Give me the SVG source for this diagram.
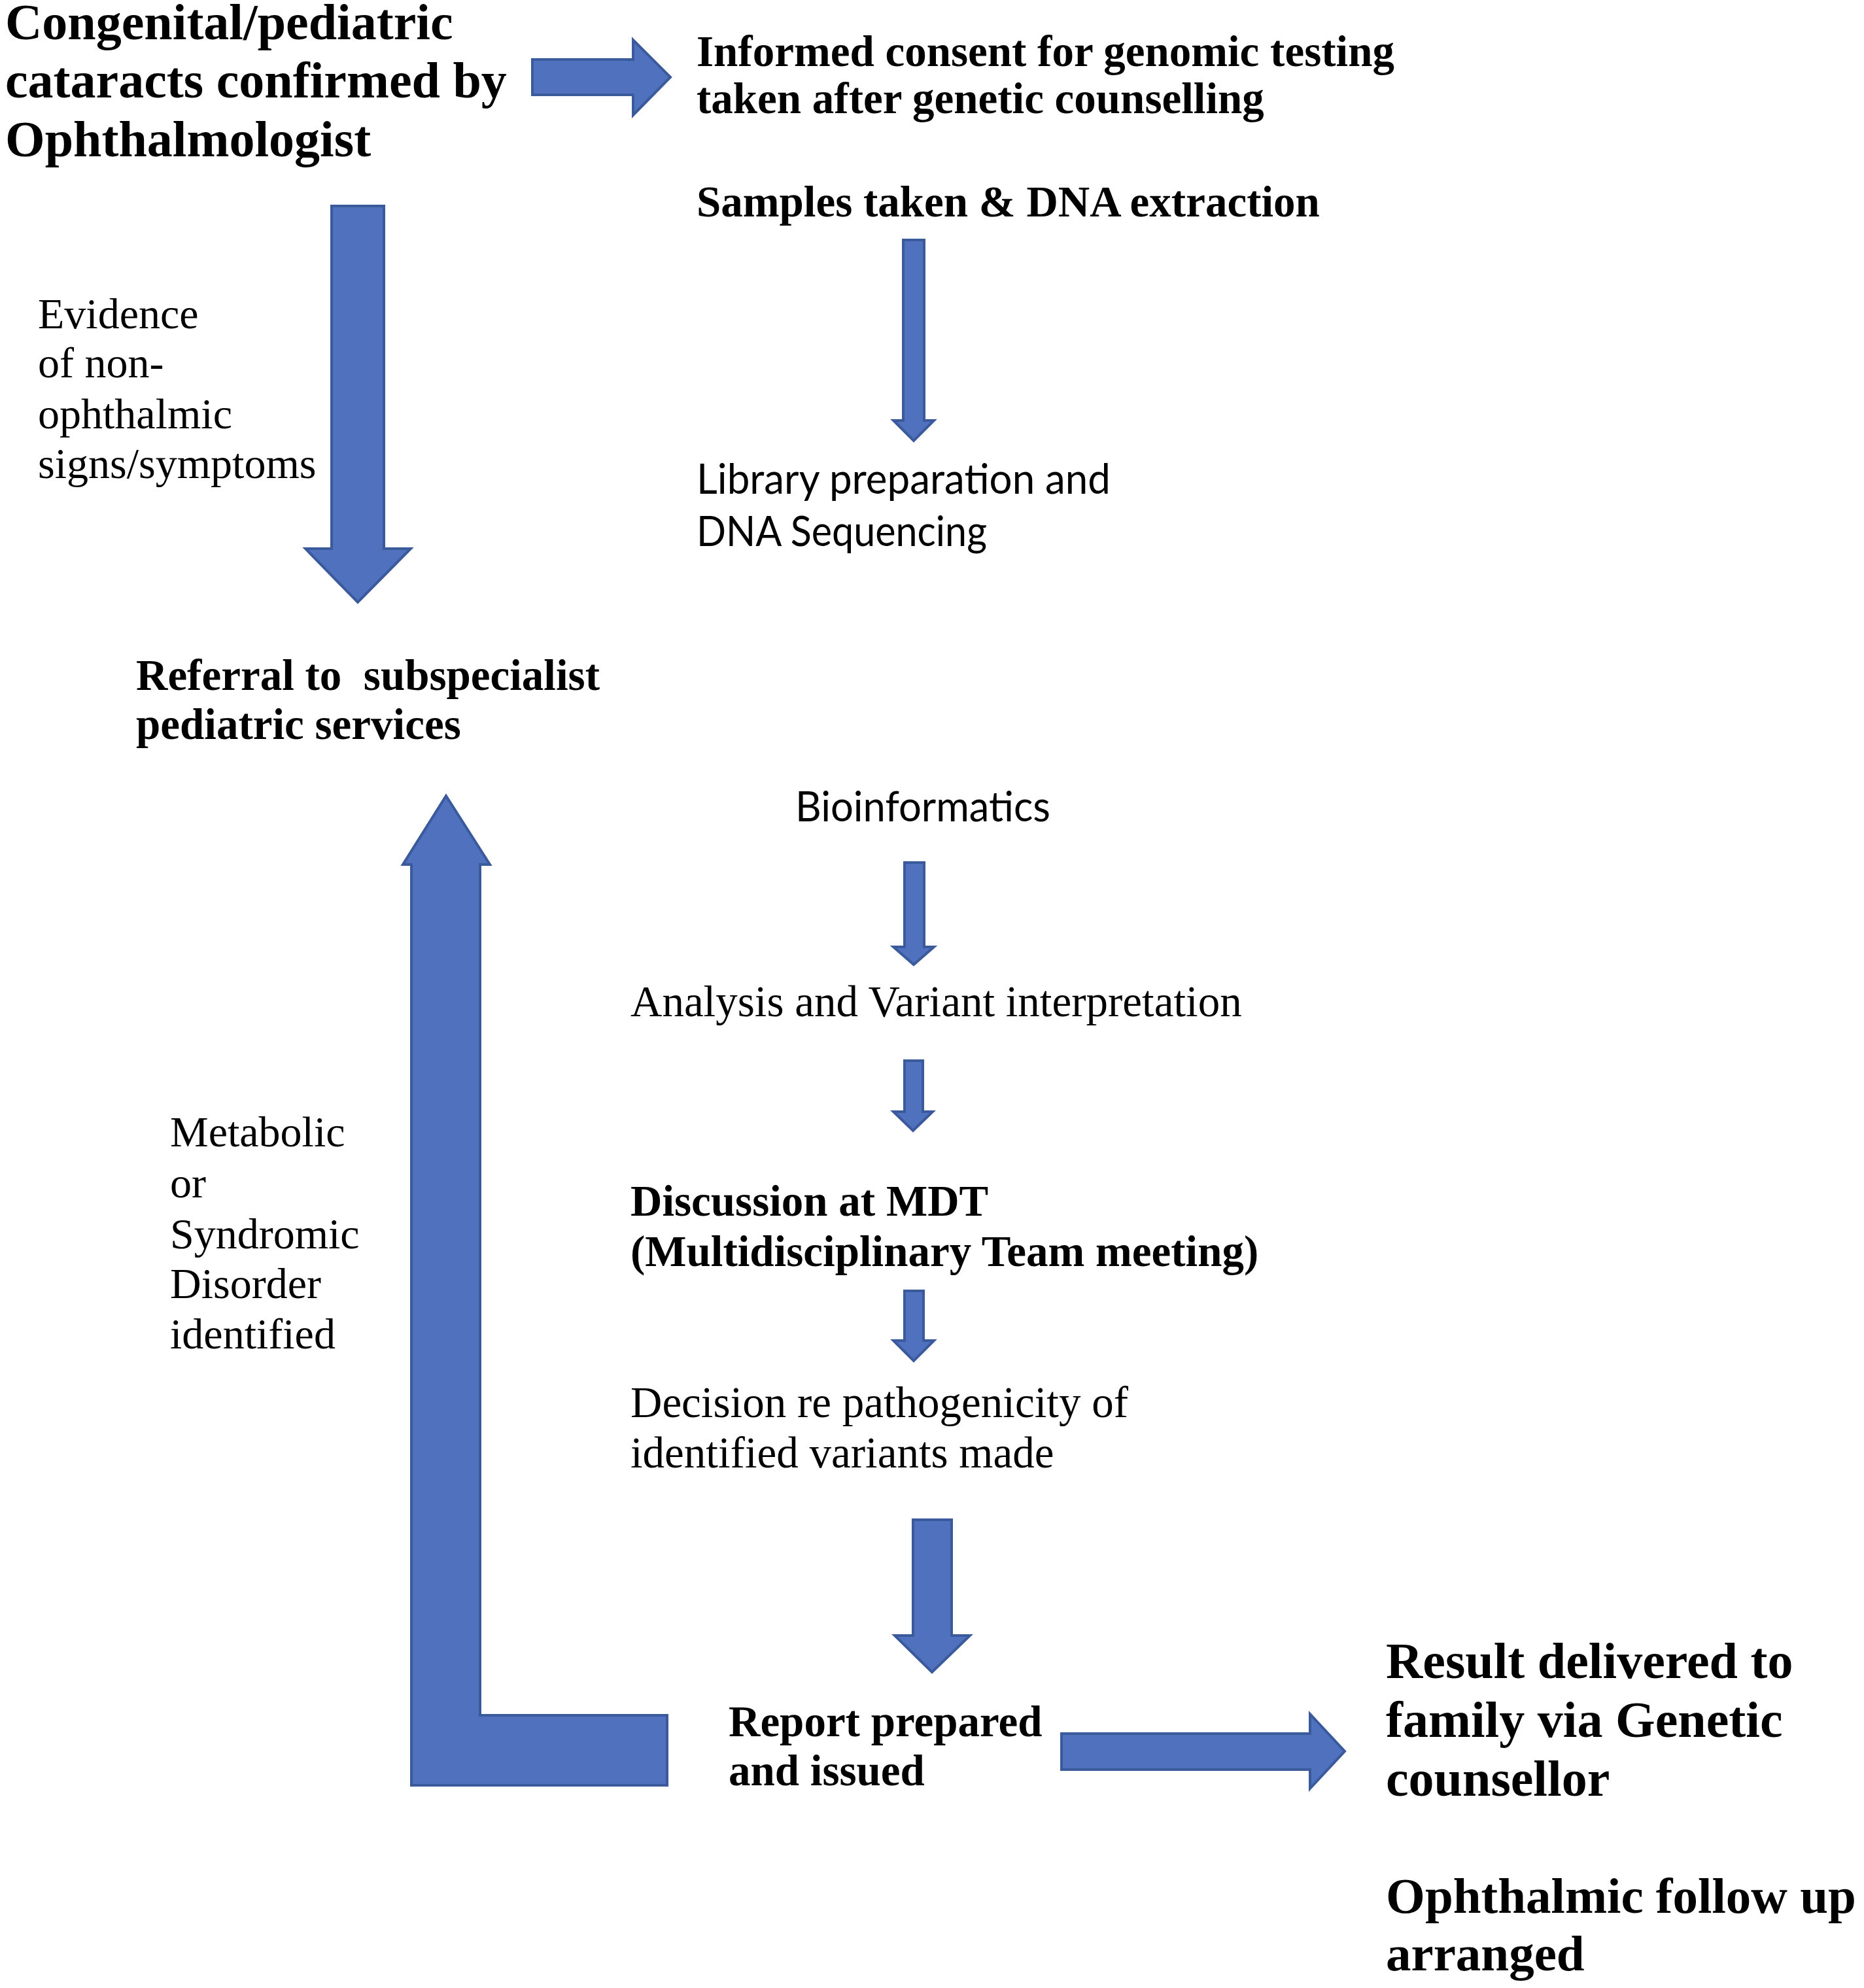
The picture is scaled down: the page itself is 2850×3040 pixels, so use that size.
<svg xmlns="http://www.w3.org/2000/svg" width="2850" height="3040" viewBox="0 0 2850 3040">
<style>
.arr{fill:#4F71BE;stroke:#3A5A9C;stroke-width:4;stroke-linejoin:miter}
.tb{font-family:"Liberation Serif","Times New Roman",serif;font-weight:bold;fill:#000}
.tr{font-family:"Liberation Serif","Times New Roman",serif;fill:#000}
.tc{font-family:Lato,"Liberation Sans",sans-serif;fill:#000}
.s78{font-size:78px}.s77{font-size:77px}.s67{font-size:67px}.s66{font-size:66px}
</style>
<rect width="2850" height="3040" fill="#ffffff"/>
<g id="connectors">
<polygon class="arr" points="814,91 968,91 968,61 1025,118 968,176 968,145 814,145"/>
<polygon class="arr" points="507,315 587,315 587,839 628,839 547,921 467,839 507,839"/>
<polygon class="arr" points="1381,367 1413,367 1413,643 1428,643 1397,674 1366,643 1381,643"/>
<polygon class="arr" points="1383,1319 1413,1319 1413,1448 1428,1448 1397,1475 1366,1448 1383,1448"/>
<polygon class="arr" points="1383,1622 1411,1622 1411,1700 1426,1700 1396,1729 1366,1700 1383,1700"/>
<polygon class="arr" points="1383,1974 1412,1974 1412,2050 1428,2050 1397,2081 1366,2050 1383,2050"/>
<polygon class="arr" points="1396,2324 1455,2324 1455,2501 1483,2501 1425,2557 1368,2501 1396,2501"/>
<polygon class="arr" points="682,1217 749,1322 734,1322 734,2623 1020,2623 1020,2730 629,2730 629,1322 616,1322"/>
<polygon class="arr" points="1623,2651 2003,2651 2003,2621 2056,2678 2003,2735 2003,2706 1623,2706"/>
</g>
<g id="n-congenital">
<text class="tb s78" x="8" y="60">Congenital/pediatric</text>
<text class="tb s78" x="8" y="149">cataracts confirmed by</text>
<text class="tb s78" x="8" y="239">Ophthalmologist</text>
</g>
<g id="n-consent">
<text class="tb s67" x="1065" y="101">Informed consent for genomic testing</text>
<text class="tb s67" x="1065" y="173">taken after genetic counselling</text>
</g>
<g id="n-samples">
<text class="tb s67" x="1065" y="331">Samples taken &amp; DNA extraction</text>
</g>
<g id="n-library">
<text class="tc" font-size="64" x="1065" y="755" textLength="633" lengthAdjust="spacingAndGlyphs">Library preparation and</text>
<text class="tc" font-size="64" x="1065" y="835" textLength="444" lengthAdjust="spacingAndGlyphs">DNA Sequencing</text>
</g>
<g id="n-bioinformatics">
<text class="tc" font-size="64" x="1216" y="1256" textLength="390" lengthAdjust="spacingAndGlyphs">Bioinformatics</text>
</g>
<g id="n-evidence">
<text class="tr s66" x="58" y="502">Evidence</text>
<text class="tr s66" x="58" y="577">of non-</text>
<text class="tr s66" x="58" y="655">ophthalmic</text>
<text class="tr s66" x="58" y="731">signs/symptoms</text>
</g>
<g id="n-referral">
<text class="tb s67" x="208" y="1055" xml:space="preserve">Referral to  subspecialist</text>
<text class="tb s67" x="208" y="1130">pediatric services</text>
</g>
<g id="n-analysis">
<text class="tr s67" x="964" y="1554">Analysis and Variant interpretation</text>
</g>
<g id="n-metabolic">
<text class="tr s66" x="260" y="1753">Metabolic</text>
<text class="tr s66" x="260" y="1831">or</text>
<text class="tr s66" x="260" y="1909">Syndromic</text>
<text class="tr s66" x="260" y="1985">Disorder</text>
<text class="tr s66" x="260" y="2062">identified</text>
</g>
<g id="n-mdt">
<text class="tb s67" x="964" y="1859">Discussion at MDT</text>
<text class="tb s67" x="964" y="1936">(Multidisciplinary Team meeting)</text>
</g>
<g id="n-decision">
<text class="tr s67" x="964" y="2167">Decision re pathogenicity of</text>
<text class="tr s67" x="964" y="2244">identified variants made</text>
</g>
<g id="n-report">
<text class="tb s67" x="1114" y="2655">Report prepared</text>
<text class="tb s67" x="1114" y="2730">and issued</text>
</g>
<g id="n-result">
<text class="tb s78" x="2119" y="2566">Result delivered to</text>
<text class="tb s78" x="2119" y="2656">family via Genetic</text>
<text class="tb s78" x="2119" y="2746">counsellor</text>
</g>
<g id="n-followup">
<text class="tb s77" x="2119" y="2925">Ophthalmic follow up</text>
<text class="tb s77" x="2119" y="3013">arranged</text>
</g>
</svg>
